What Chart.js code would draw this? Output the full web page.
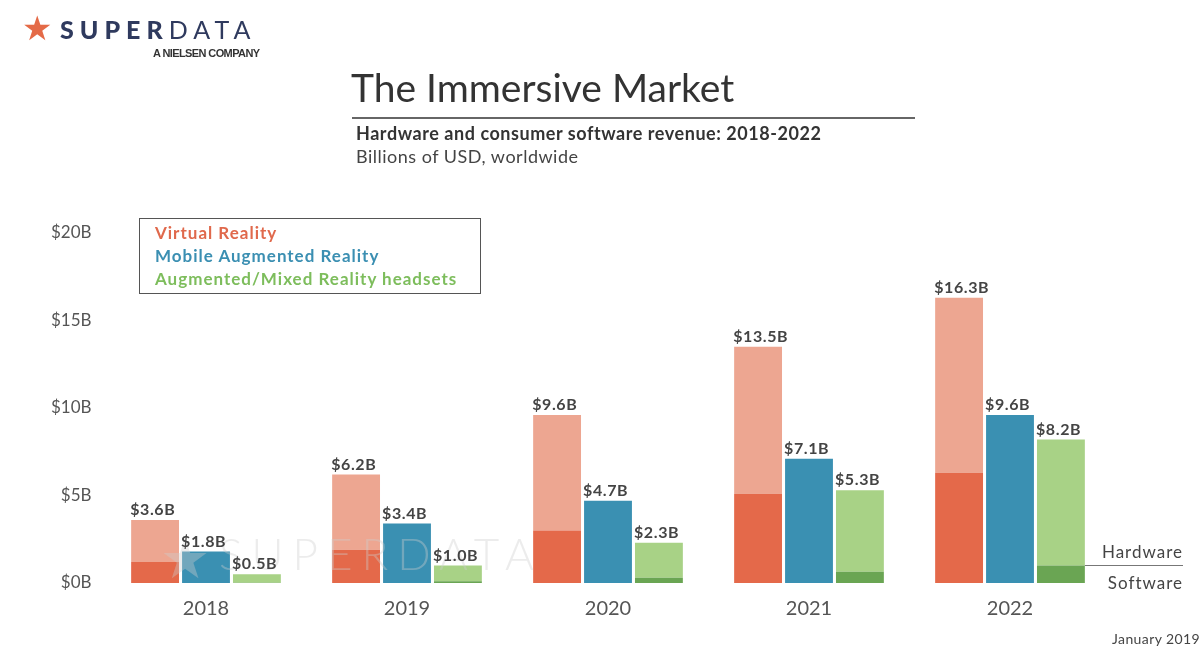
<!DOCTYPE html>
<html>
<head>
<meta charset="utf-8">
<script src="https://cdn.jsdelivr.net/npm/chart.js@4.4.1/dist/chart.umd.min.js"></script>
<style>
  body { margin: 0; background: #fff; font-family: Lato, 'Open Sans', sans-serif; }
  #wrap { position: relative; width: 1203px; height: 648px; overflow: hidden; }
  #myChart { position: absolute; left: 0; top: 0; }
  .abs { position: absolute; line-height: 1; white-space: nowrap; }
  #star { left: 22px; top: 11px; font-size: 34px; color: #e46a47; font-family: 'DejaVu Sans', sans-serif; }
  #brand { left: 60px; top: 17px; font-size: 25px; color: #2f3a5e; letter-spacing: 6px; }
  #brand b { font-weight: 900; }
  #brand span { font-weight: 400; }
  #nielsen { left: 153px; top: 48px; font-size: 11px; font-weight: bold; color: #333; letter-spacing: -0.6px;
             font-family: 'Liberation Sans Narrow', 'Liberation Sans', sans-serif; }
  #title { left: 351px; top: 68px; font-size: 39px; color: #333; }
  #rule { position: absolute; left: 352px; top: 117px; width: 563px; height: 1.5px; background: #666; }
  #sub1 { left: 356px; top: 124px; font-size: 18px; font-weight: bold; color: #333; letter-spacing: 0.55px; }
  #sub2 { left: 356px; top: 147px; font-size: 18px; color: #444; letter-spacing: 0.5px; }
  #legend { position: absolute; left: 139px; top: 218px; border: 1.5px solid #555;
            padding: 2px 0 0 15px; box-sizing: border-box; width: 342px; height: 76px; }
  #legend div { font-size: 17px; font-weight: bold; line-height: 23px; letter-spacing: 1px; }
  #jan { left: 1112px; top: 632px; font-size: 14px; color: #444; letter-spacing: 0.4px; }
</style>
</head>
<body>
<div id="wrap">
  <canvas id="myChart" width="1203" height="648"></canvas>
  <div class="abs" id="star">★</div>
  <div class="abs" id="brand"><b>SUPER</b><span>DATA</span></div>
  <div class="abs" id="nielsen">A NIELSEN COMPANY</div>
  <div class="abs" id="title">The Immersive Market</div>
  <div id="rule"></div>
  <div class="abs" id="sub1">Hardware and consumer software revenue: 2018-2022</div>
  <div class="abs" id="sub2">Billions of USD, worldwide</div>
  <div id="legend">
    <div style="color:#e0694c">Virtual Reality</div>
    <div style="color:#3b8fb2">Mobile Augmented Reality</div>
    <div style="color:#7dbd5c">Augmented/Mixed Reality headsets</div>
  </div>
  <div class="abs" id="jan">January 2019</div>
</div>
<script>
// values in billions of USD
const years = ['2018', '2019', '2020', '2021', '2022'];
const vrTotal = [3.6, 6.2, 9.6, 13.5, 16.3];
const vrSoftware = [1.2, 1.9, 3.0, 5.1, 6.3];
const mobileAR = [1.8, 3.4, 4.7, 7.1, 9.6];
const arTotal = [0.5, 1.0, 2.3, 5.3, 8.2];
const arSoftware = [0.02, 0.1, 0.3, 0.65, 1.0];
const yTicks = [0, 5, 10, 15, 20];

const vrHardware = vrTotal.map((t, i) => +(t - vrSoftware[i]).toFixed(2));
const arHardware = arTotal.map((t, i) => +(t - arSoftware[i]).toFixed(2));

const ctx = document.getElementById('myChart').getContext('2d');

const labelPlugin = {
    id: 'labels',
    afterDatasetsDraw(chart) {
        const c = chart.ctx;
        const yScale = chart.scales.y;

        // watermark
        c.save();
        c.font = '300 44px Lato';
        c.fillStyle = 'rgba(205,205,205,0.38)';
        c.letterSpacing = '9px';
        c.textBaseline = 'alphabetic';
        c.fillText('SUPERDATA', 219, 570);
        c.font = '56px "DejaVu Sans"';
        c.letterSpacing = '0px';
        c.fillText('★', 160, 578);
        c.restore();

        // totals above each stack
        const tops = [
            { idx: 1, vals: vrTotal },
            { idx: 2, vals: mobileAR },
            { idx: 4, vals: arTotal }
        ];
        c.save();
        c.font = 'bold 16px Lato';
        c.letterSpacing = '0.6px';
        c.fillStyle = '#444';
        c.textAlign = 'left';
        c.textBaseline = 'alphabetic';
        for (let t of tops) {
            const meta = chart.getDatasetMeta(t.idx);
            meta.data.forEach((bar, i) => {
                const left = bar.x - bar.width / 2;
                c.fillText('$' + t.vals[i].toFixed(1) + 'B', left - 1, yScale.getPixelForValue(t.vals[i]) - 5);
            });
        }
        c.restore();

        // hardware / software marker
        const last = chart.getDatasetMeta(4).data[years.length - 1];
        const yLine = yScale.getPixelForValue(arSoftware[years.length - 1]);
        const x0 = last.x + last.width / 2;
        c.save();
        c.strokeStyle = '#777';
        c.lineWidth = 1.2;
        c.beginPath();
        c.moveTo(x0, yLine);
        c.lineTo(1183, yLine);
        c.stroke();
        c.font = '17px Lato';
        c.letterSpacing = '1px';
        c.fillStyle = '#444';
        c.textAlign = 'right';
        c.fillText('Hardware', 1183, yLine - 8);
        c.fillText('Software', 1183, yLine + 23);
        c.restore();
    }
};

const myChart = new Chart(ctx, { // eslint-disable-line
    type: 'bar',
    data: {
        labels: years,
        datasets: [
            { label: 'VR software', data: vrSoftware, backgroundColor: '#e4694a', stack: 'vr' },
            { label: 'VR hardware', data: vrHardware, backgroundColor: '#eda691', stack: 'vr' },
            { label: 'Mobile AR', data: mobileAR, backgroundColor: '#3a90b2', stack: 'mar' },
            { label: 'AR/MR software', data: arSoftware, backgroundColor: '#6aa553', stack: 'ar' },
            { label: 'AR/MR hardware', data: arHardware, backgroundColor: '#a8d286', stack: 'ar' }
        ]
    },
    options: {
        responsive: false,
        animation: false,
        barPercentage: 0.94,
        categoryPercentage: 0.76,
        layout: { padding: { top: 233, right: 92.5, left: 0, bottom: 0 } },
        plugins: {
            legend: { display: false },
            tooltip: { enabled: false }
        },
        scales: {
            x: {
                stacked: true,
                grid: { display: false },
                border: { display: false },
                ticks: { color: '#555', font: { family: 'Lato', size: 20 }, padding: 6 },
                afterFit(scale) { scale.height = 65; }
            },
            y: {
                stacked: true,
                min: 0,
                max: 20,
                grid: { display: false },
                border: { display: false },
                afterBuildTicks(scale) { scale.ticks = yTicks.map(v => ({ value: v })); },
                ticks: {
                    color: '#555',
                    font: { family: 'Lato', size: 17 },
                    padding: 6,
                    callback: (v) => '$' + v + 'B'
                },
                afterFit(scale) { scale.width = 105.5; }
            }
        }
    },
    plugins: [labelPlugin]
});
</script>
</body>
</html>
